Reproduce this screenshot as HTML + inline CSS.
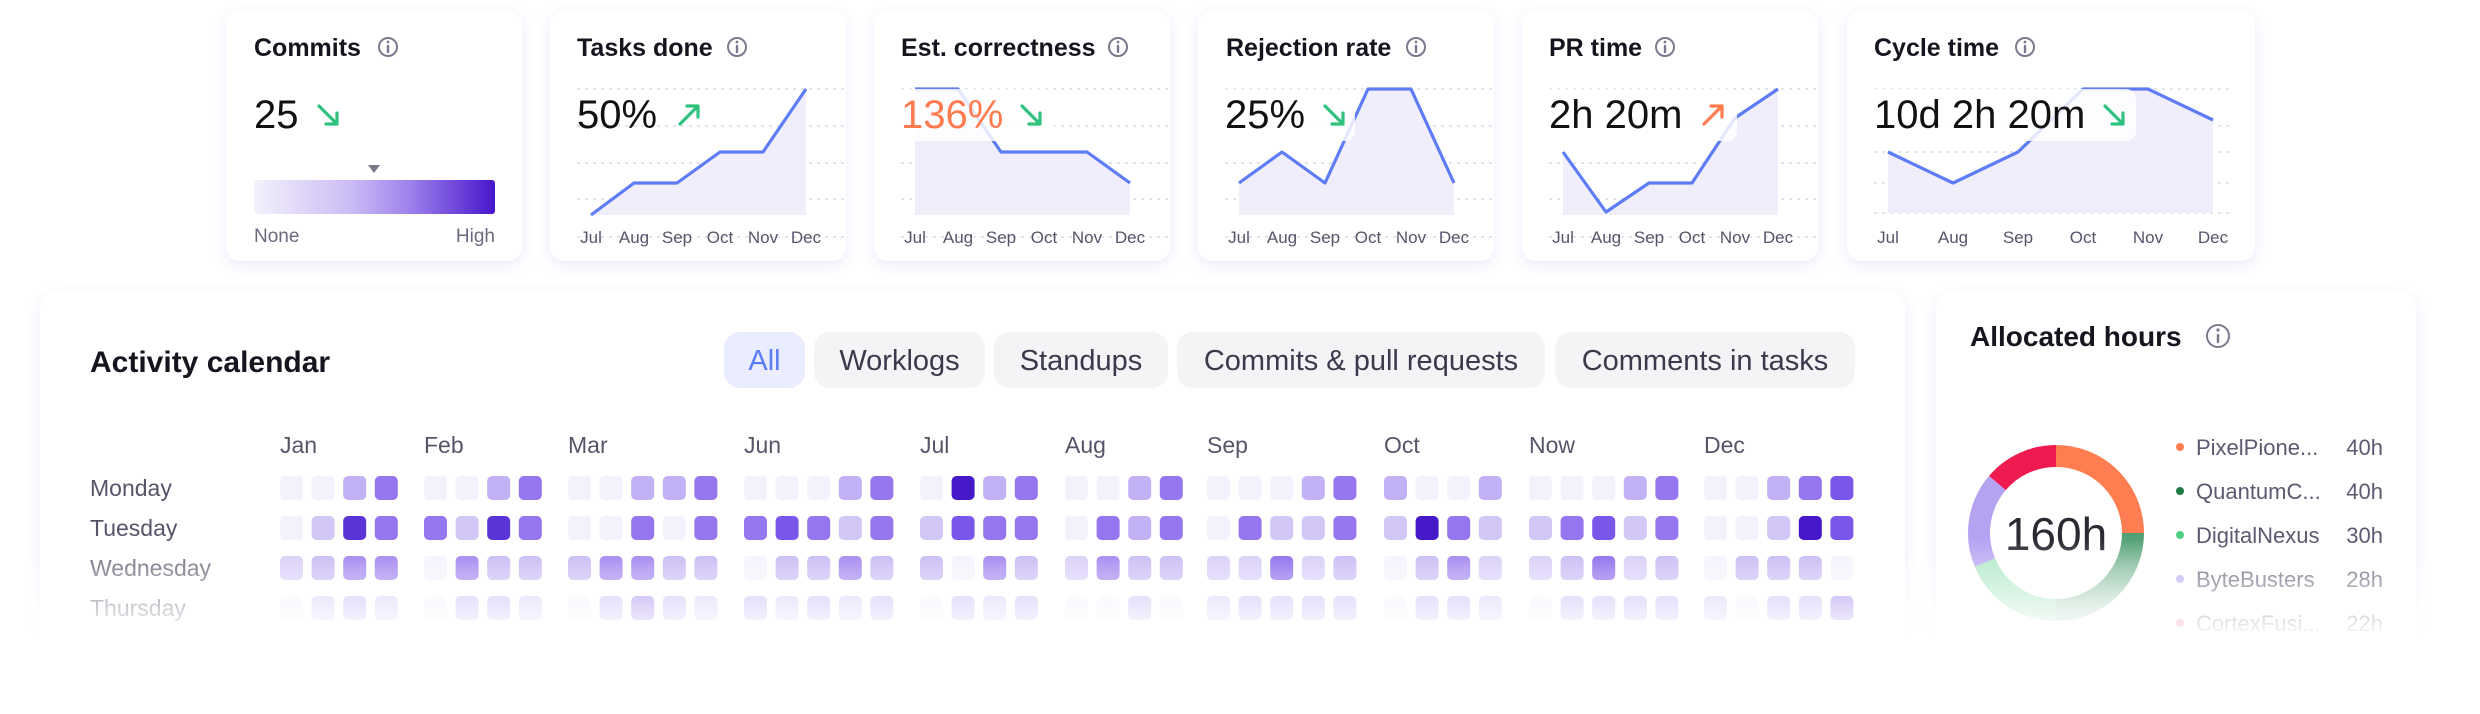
<!DOCTYPE html>
<html><head><meta charset="utf-8"><style>
html,body{margin:0;padding:0;background:#fff;}
body{width:2480px;height:714px;overflow:hidden;}
svg{display:block;font-family:"Liberation Sans",sans-serif;}
</style></head><body>
<svg width="2480" height="714" viewBox="0 0 2480 714" xmlns="http://www.w3.org/2000/svg">
<defs>
<filter id="sh" x="-10%" y="-10%" width="120%" height="130%"><feDropShadow dx="0" dy="4" stdDeviation="6" flood-color="#6a55e0" flood-opacity="0.13"/></filter>
<linearGradient id="bar" x1="0" x2="1" y1="0" y2="0"><stop offset="0" stop-color="#f4f1fc"/><stop offset="0.4" stop-color="#cbbcf5"/><stop offset="0.65" stop-color="#9d80ec"/><stop offset="1" stop-color="#4716cc"/></linearGradient>
<linearGradient id="fade" x1="0" x2="0" y1="540" y2="640" gradientUnits="userSpaceOnUse"><stop offset="0" stop-color="#fff" stop-opacity="0"/><stop offset="0.3" stop-color="#fff" stop-opacity="0.35"/><stop offset="0.72" stop-color="#fff" stop-opacity="0.75"/><stop offset="1" stop-color="#fff" stop-opacity="1"/></linearGradient>
<linearGradient id="gg" x1="0" x2="0" y1="533" y2="610" gradientUnits="userSpaceOnUse"><stop offset="0" stop-color="#4f9f72"/><stop offset="1" stop-color="#a9cfb9"/></linearGradient>
</defs>
<g filter="url(#sh)" fill="#fff">
<rect x="226" y="11" width="296" height="250" rx="14"/>
<rect x="550" y="11" width="296" height="250" rx="14"/>
<rect x="874" y="11" width="296" height="250" rx="14"/>
<rect x="1198" y="11" width="296" height="250" rx="14"/>
<rect x="1522" y="11" width="296" height="250" rx="14"/>
<rect x="1847" y="11" width="408" height="250" rx="14"/>
<rect x="40" y="292" width="1865" height="420" rx="18"/>
<rect x="1936" y="292" width="480" height="420" rx="18"/>
</g>
<g font-size="25" font-weight="700" fill="#15151f">
<text x="254" y="56">Commits</text>
<text x="577" y="56">Tasks done</text>
<text x="901" y="56">Est. correctness</text>
<text x="1226" y="56">Rejection rate</text>
<text x="1549" y="56">PR time</text>
<text x="1874" y="56">Cycle time</text>
</g>
<g stroke="#7a7a8e" stroke-width="2" fill="none">
<circle cx="388" cy="47" r="9"/><circle cx="737" cy="47" r="9"/><circle cx="1118" cy="47" r="9"/><circle cx="1416" cy="47" r="9"/><circle cx="1665" cy="47" r="9"/><circle cx="2025" cy="47" r="9"/><circle cx="2218" cy="336" r="11"/>
</g>
<g stroke="#7a7a8e" stroke-width="2.4" stroke-linecap="round">
<line x1="388" y1="46" x2="388" y2="52"/><line x1="737" y1="46" x2="737" y2="52"/><line x1="1118" y1="46" x2="1118" y2="52"/><line x1="1416" y1="46" x2="1416" y2="52"/><line x1="1665" y1="46" x2="1665" y2="52"/><line x1="2025" y1="46" x2="2025" y2="52"/><line x1="2218" y1="335" x2="2218" y2="342"/>
</g>
<g fill="#7a7a8e"><circle cx="388" cy="42" r="1.4"/><circle cx="737" cy="42" r="1.4"/><circle cx="1118" cy="42" r="1.4"/><circle cx="1416" cy="42" r="1.4"/><circle cx="1665" cy="42" r="1.4"/><circle cx="2025" cy="42" r="1.4"/><circle cx="2218" cy="330" r="1.6"/></g>

<g stroke="#e3e3ea" stroke-width="2" stroke-dasharray="3 5">
<path d="M577 89H846M577 126H846M577 163H846M577 199H846M577 237H846"/>
<path d="M901 89H1170M901 126H1170M901 163H1170M901 199H1170M901 237H1170"/>
<path d="M1225 89H1494M1225 126H1494M1225 163H1494M1225 199H1494M1225 237H1494"/>
<path d="M1549 89H1818M1549 126H1818M1549 163H1818M1549 199H1818M1549 237H1818"/>
<path d="M1874 89H2230M1874 126H2230M1874 152H2230M1874 183H2230M1874 213H2230"/>
</g>
<g fill="#f1eefc">
<polygon points="591,215 634,183 677,183 720,152 763,152 806,89 806,215"/>
<polygon points="915,89 958,89 1001,152 1044,152 1087,152 1130,183 1130,215 915,215"/>
<polygon points="1239,183 1282,152 1325,183 1368,89 1411,89 1454,183 1454,215 1239,215"/>
<polygon points="1563,152 1606,212 1649,183 1692,183 1735,118 1778,89 1778,215 1563,215"/>
<polygon points="1888,152 1953,183 2018,152 2083,89 2148,89 2213,120 2213,213 1888,213"/>
</g>
<g fill="none" stroke="#5d7cf5" stroke-width="3.2" stroke-linejoin="round">
<polyline points="591,215 634,183 677,183 720,152 763,152 806,89"/>
<polyline points="915,89 958,89 1001,152 1044,152 1087,152 1130,183"/>
<polyline points="1239,183 1282,152 1325,183 1368,89 1411,89 1454,183"/>
<polyline points="1563,152 1606,212 1649,183 1692,183 1735,118 1778,89"/>
<polyline points="1888,152 1953,183 2018,152 2083,89 2148,89 2213,120"/>
</g>
<g fill="#fff" fill-opacity="0.82">
<rect x="895" y="89" width="160" height="52" rx="10"/>
<rect x="1218" y="89" width="137" height="52" rx="10"/>
<rect x="1540" y="89" width="197" height="52" rx="10"/>
<rect x="1864" y="89" width="272" height="52" rx="10"/>
</g>
<g font-size="40" fill="#111">
<text x="254" y="128">25</text>
<text x="577" y="128">50%</text>
<text x="901" y="128" fill="#ff7a4e">136%</text>
<text x="1225" y="128">25%</text>
<text x="1549" y="128">2h 20m</text>
<text x="1874" y="128">10d 2h 20m</text>
</g>
<g fill="none" stroke-width="3.2" stroke-linecap="round" stroke-linejoin="round">
<g stroke="#2ec27e"><path d="M319 106L337 124M326 124H337V113"/>
<path d="M1022 106L1040 124M1029 124H1040V113"/>
<path d="M1325 106L1343 124M1332 124H1343V113"/>
<path d="M2105 106L2123 124M2112 124H2123V113"/>
<path d="M680 124L698 106M687 106H698V117"/></g>
<path stroke="#ff7a4e" d="M1704 124L1722 106M1711 106H1722V117"/>
</g>
<polygon points="368,165 380,165 374,173" fill="#7a7a8a"/>
<rect x="254" y="180" width="241" height="34" rx="3" fill="url(#bar)"/>
<g font-size="19" fill="#6a6a7e"><text x="254" y="242">None</text><text x="495" y="242" text-anchor="end">High</text></g>
<g font-size="17" fill="#55556a" text-anchor="middle">
<text x="591" y="243">Jul</text><text x="634" y="243">Aug</text><text x="677" y="243">Sep</text><text x="720" y="243">Oct</text><text x="763" y="243">Nov</text><text x="806" y="243">Dec</text>
<text x="915" y="243">Jul</text><text x="958" y="243">Aug</text><text x="1001" y="243">Sep</text><text x="1044" y="243">Oct</text><text x="1087" y="243">Nov</text><text x="1130" y="243">Dec</text>
<text x="1239" y="243">Jul</text><text x="1282" y="243">Aug</text><text x="1325" y="243">Sep</text><text x="1368" y="243">Oct</text><text x="1411" y="243">Nov</text><text x="1454" y="243">Dec</text>
<text x="1563" y="243">Jul</text><text x="1606" y="243">Aug</text><text x="1649" y="243">Sep</text><text x="1692" y="243">Oct</text><text x="1735" y="243">Nov</text><text x="1778" y="243">Dec</text>
<text x="1888" y="243">Jul</text><text x="1953" y="243">Aug</text><text x="2018" y="243">Sep</text><text x="2083" y="243">Oct</text><text x="2148" y="243">Nov</text><text x="2213" y="243">Dec</text>
</g>

<text x="90" y="372" font-size="30" font-weight="700" fill="#15151f">Activity calendar</text>
<rect x="724" y="332" width="81" height="56" rx="16" fill="#e9edff"/>
<g fill="#f4f4f6">
<rect x="814" y="332" width="171" height="56" rx="16"/>
<rect x="994" y="332" width="174" height="56" rx="16"/>
<rect x="1177" y="332" width="368" height="56" rx="16"/>
<rect x="1555" y="332" width="300" height="56" rx="16"/>
</g>
<g font-size="29" text-anchor="middle" fill="#3a3a4c">
<text x="764.5" y="370" fill="#5b7cf6">All</text>
<text x="899.5" y="370">Worklogs</text>
<text x="1081" y="370">Standups</text>
<text x="1361" y="370">Commits &amp; pull requests</text>
<text x="1705" y="370">Comments in tasks</text>
</g>
<g font-size="23" fill="#55556a">
<text x="280" y="453">Jan</text><text x="424" y="453">Feb</text><text x="568" y="453">Mar</text><text x="744" y="453">Jun</text><text x="920" y="453">Jul</text><text x="1065" y="453">Aug</text><text x="1207" y="453">Sep</text><text x="1384" y="453">Oct</text><text x="1529" y="453">Now</text><text x="1704" y="453">Dec</text>
</g>
<g font-size="23" fill="#55556a">
<text x="90" y="496">Monday</text><text x="90" y="536">Tuesday</text><text x="90" y="576">Wednesday</text><text x="90" y="616">Thursday</text>
</g>
<g id="cells"></g>

<text x="1970" y="346" font-size="28" font-weight="700" fill="#15151f">Allocated hours</text>
<g fill="none" stroke-width="22">
<path d="M2056 456A77 77 0 0 1 2133 533" stroke="#ff7d50"/>
<path d="M2133 533A77 77 0 0 1 2056 610" stroke="url(#gg)"/>
<path d="M2056 610A77 77 0 0 1 1984.9 562.5" stroke="#a8e6c2"/>
<path d="M1984.9 562.5A77 77 0 0 1 1997.4 483" stroke="#b5a3f2"/>
<path d="M1997.4 483A77 77 0 0 1 2056 456" stroke="#ef1a50"/>
</g>
<text x="2056" y="550" font-size="46" text-anchor="middle" fill="#2a2a33">160h</text>
<g font-size="22" fill="#5a5a70">
<circle cx="2180" cy="447" r="4" fill="#ff7d50"/><text x="2196" y="455">PixelPione...</text><text x="2383" y="455" text-anchor="end">40h</text>
<circle cx="2180" cy="491" r="4" fill="#1f7a45"/><text x="2196" y="499">QuantumC...</text><text x="2383" y="499" text-anchor="end">40h</text>
<circle cx="2180" cy="535" r="4" fill="#4dd083"/><text x="2196" y="543">DigitalNexus</text><text x="2383" y="543" text-anchor="end">30h</text>
<circle cx="2180" cy="579" r="4" fill="#b5a3f2"/><text x="2196" y="587">ByteBusters</text><text x="2383" y="587" text-anchor="end">28h</text>
<circle cx="2180" cy="623" r="4" fill="#f0476f"/><text x="2196" y="631">CortexFusi...</text><text x="2383" y="631" text-anchor="end">22h</text>
</g>
<rect x="0" y="540" width="2480" height="174" fill="url(#fade)"/>
</svg>
<script>
(function(){
var C=['#f3f1fc','#d3c7f7','#c2b1f4','#9676ee','#7b57e9','#5b34d8','#4519c9'];
var starts=[280,424,568,744,920,1065,1207,1384,1529,1704];
var rows=[
[[0,0,2,3],[0,0,2,3],[0,0,2,2,3],[0,0,0,2,3],[0,6,2,3],[0,0,2,3],[0,0,0,2,3],[2,0,0,2],[0,0,0,2,3],[0,0,2,3,4]],
[[0,1,5,3],[3,1,5,3],[0,0,3,0,3],[3,4,3,1,3],[1,4,3,3],[0,3,2,3],[0,3,1,1,3],[1,6,3,1],[1,3,4,1,3],[0,0,1,6,4]],
[[1,2,3,3],[0,3,2,2],[2,3,3,2,2],[0,2,2,3,2],[2,0,3,2],[1,3,2,2],[1,1,4,1,2],[0,2,3,1],[1,2,4,1,2],[0,2,2,2,0]],
[[0,1,2,1],[0,2,2,1],[0,2,3,2,1],[2,1,2,1,2],[0,2,1,2],[0,0,2,0],[1,2,2,2,2],[0,2,2,1],[0,2,2,2,2],[1,0,2,2,3]]];
var g=document.getElementById('cells'),ns='http://www.w3.org/2000/svg';
rows.forEach(function(r,ri){r.forEach(function(grp,gi){grp.forEach(function(v,ci){
var e=document.createElementNS(ns,'rect');e.setAttribute('x',starts[gi]+ci*31.6);e.setAttribute('y',476+ri*40);
e.setAttribute('width',23);e.setAttribute('height',24);e.setAttribute('rx',5);e.setAttribute('fill',C[v]);g.appendChild(e);});});});
})();
</script>
</body></html>
